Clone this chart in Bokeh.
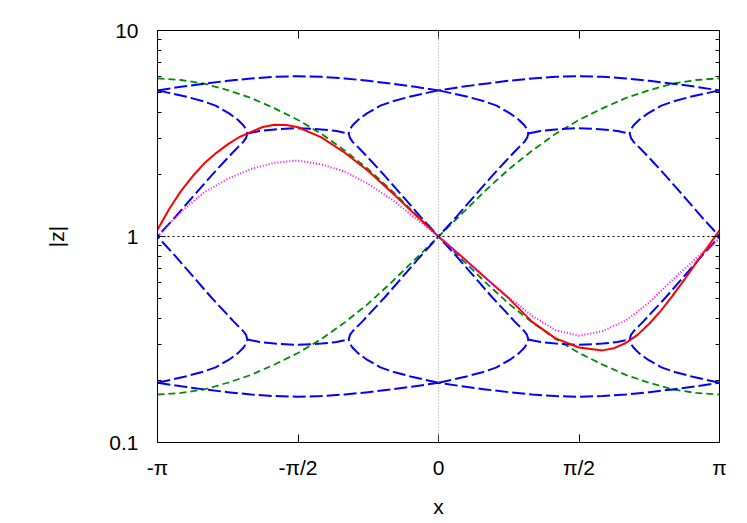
import numpy as np
from bokeh.plotting import figure
from bokeh.models import (FixedTicker, CustomJSTickFormatter, LinearAxis, LogAxis,
                          Span, Range1d)
from bokeh.embed import file_html
from bokeh.resources import INLINE

# ---------------- data (x in radians) ----------------
x_full = [-3.1416, -2.8798, -2.6180, -2.3562, -2.0944, -1.8326, -1.5708, -1.3090,
          -1.0472, -0.7854, -0.5236, -0.2618, 0.0, 0.2618, 0.5236, 0.7854, 1.0472,
          1.3090, 1.5708, 1.8326, 2.0944, 2.3562, 2.6180, 2.8798, 3.1416]

# blue: outer arcs
blue_top = [5.12, 5.33, 5.52, 5.70, 5.85, 5.96, 6.00, 5.96, 5.85, 5.70, 5.52, 5.33, 5.12,
            5.33, 5.52, 5.70, 5.85, 5.96, 6.00, 5.96, 5.85, 5.70, 5.52, 5.33, 5.12]
blue_bottom = [0.195, 0.1875, 0.181, 0.1755, 0.171, 0.168, 0.1667, 0.168, 0.171, 0.1755,
               0.181, 0.1875, 0.195, 0.1875, 0.181, 0.1755, 0.171, 0.168, 0.1667, 0.168,
               0.171, 0.1755, 0.181, 0.1875, 0.195]

# blue: branches that merge at the cusps
bx_left_end = [-3.1416, -2.8416, -2.6416, -2.4916, -2.3416, -2.2416, -2.1816, -2.1516, -2.1376,
               -2.1516, -2.1816, -2.2116, -2.2916, -2.3916, -2.5416, -2.7416, -2.9416, -3.1416]
bx_left_mid = [0.0, -0.30, -0.50, -0.65, -0.80, -0.90, -0.96, -0.99, -1.004,
               -0.99, -0.96, -0.93, -0.85, -0.75, -0.60, -0.40, -0.20, 0.0]
bx_right_mid = [0.0, 0.30, 0.50, 0.65, 0.80, 0.90, 0.96, 0.99, 1.004,
                0.99, 0.96, 0.93, 0.85, 0.75, 0.60, 0.40, 0.20, 0.0]
bx_right_end = [3.1416, 2.8416, 2.6416, 2.4916, 2.3416, 2.2416, 2.1816, 2.1516, 2.1376,
                2.1516, 2.1816, 2.2116, 2.2916, 2.3916, 2.5416, 2.7416, 2.9416, 3.1416]
by_branch_upper = [5.12, 4.80, 4.55, 4.32, 3.96, 3.68, 3.47, 3.31, 3.162,
                   3.01, 2.88, 2.80, 2.58, 2.32, 1.97, 1.57, 1.245, 1.0]
by_branch_lower = [0.195, 0.2085, 0.220, 0.2317, 0.2523, 0.2716, 0.2884, 0.302, 0.3162,
                   0.3327, 0.3467, 0.3573, 0.3873, 0.4315, 0.507, 0.638, 0.803, 1.0]

# blue: flat parts between cusps
bx_flat_left = [-2.1376, -2.0, -1.8326, -1.5708, -1.309, -1.14, -1.004]
bx_flat_right = [1.004, 1.14, 1.309, 1.5708, 1.8326, 2.0, 2.1376]
by_flat_upper = [3.162, 3.251, 3.311, 3.357, 3.311, 3.251, 3.162]
by_flat_lower = [0.3162, 0.3076, 0.302, 0.2979, 0.302, 0.3076, 0.3162]

# green
green_fall = [5.86, 5.75, 5.52, 5.13, 4.70, 4.19, 3.68, 3.15, 2.61, 2.12, 1.67, 1.29, 1.0,
              0.775, 0.600, 0.472, 0.383, 0.318, 0.272, 0.239, 0.213, 0.195, 0.181, 0.174, 0.171]
green_rise = [0.171, 0.174, 0.181, 0.195, 0.213, 0.239, 0.272, 0.318, 0.383, 0.472, 0.600,
              0.775, 1.0, 1.29, 1.67, 2.12, 2.61, 3.15, 3.68, 4.19, 4.70, 5.13, 5.52, 5.75, 5.86]

# red
red_x = [-3.1416, -3.0107, -2.8798, -2.7489, -2.6180, -2.4871, -2.3562, -2.2253, -2.0944,
         -1.9635, -1.8326, -1.7017, -1.5708, -1.3090, -1.0472, -0.7854, -0.5236, -0.2618,
         0.0, 0.2618, 0.5236, 0.7854, 1.0472, 1.3090, 1.5708, 1.8326, 1.9635, 2.0944,
         2.2253, 2.3562, 2.4871, 2.6180, 2.7489, 2.8798, 3.0107, 3.1416]
red_y = [1.079, 1.36, 1.66, 1.96, 2.265, 2.54, 2.80, 3.04, 3.22,
         3.40, 3.49, 3.48, 3.39, 3.03, 2.55, 2.08, 1.64, 1.28,
         1.0, 0.798, 0.631, 0.501, 0.385, 0.320, 0.289, 0.280, 0.287, 0.304,
         0.333, 0.377, 0.437, 0.516, 0.617, 0.745, 0.891, 1.072]

# magenta
mag_x = [-3.1416, -3.0107, -2.8798, -2.6180, -2.3562, -2.0944, -1.8326, -1.5708, -1.3090,
         -1.0472, -0.7854, -0.5236, -0.2618, 0.0, 0.2618, 0.5236, 0.7854, 1.0472, 1.3090,
         1.5708, 1.8326, 2.0944, 2.3562, 2.6180, 2.8798, 3.1416]
mag_y = [1.0, 1.153, 1.318, 1.641, 1.905, 2.128, 2.280, 2.339, 2.239,
         2.065, 1.799, 1.514, 1.230, 1.0, 0.798, 0.631, 0.507, 0.412, 0.351,
         0.330, 0.347, 0.391, 0.479, 0.617, 0.785, 0.977]

y_major = [0.1, 1, 10]
y_minor = [0.2, 0.3, 0.4, 0.5, 0.6, 0.7, 0.8, 0.9, 2, 3, 4, 5, 6, 7, 8, 9]
x_major = [-np.pi, -np.pi / 2, 0, np.pi / 2, np.pi]

FONT = "Liberation Sans"
FS = "21px"

p = figure(width=739, height=523, output_backend="svg", toolbar_location=None,
           y_axis_type="log",
           x_range=Range1d(-np.pi, np.pi), y_range=Range1d(0.1, 10),
           min_border_left=157, min_border_right=20, min_border_top=30, min_border_bottom=81)
p.background_fill_color = "white"
p.border_fill_color = "white"
p.outline_line_color = "black"
p.outline_line_width = 1
p.xgrid.visible = False
p.ygrid.visible = False

# reference lines
p.add_layout(Span(location=0, dimension="height", line_color="#9a9a9a",
                  line_dash="1 2", line_width=1))
p.add_layout(Span(location=1, dimension="width", line_color="black",
                  line_dash="2 3", line_width=1))

# curves
p.multi_line(xs=[x_full, x_full], ys=[green_fall, green_rise],
             line_color="#008b00", line_width=1.8, line_dash="7 4")

blue_xs = [x_full, x_full,
           bx_left_end, bx_left_mid, bx_right_mid, bx_right_end,
           bx_left_end, bx_left_mid, bx_right_mid, bx_right_end,
           bx_flat_left, bx_flat_right, bx_flat_left, bx_flat_right]
blue_ys = [blue_top, blue_bottom,
           by_branch_upper, by_branch_upper, by_branch_upper, by_branch_upper,
           by_branch_lower, by_branch_lower, by_branch_lower, by_branch_lower,
           by_flat_upper, by_flat_upper, by_flat_lower, by_flat_lower]
p.multi_line(xs=blue_xs, ys=blue_ys, line_color="#0000ff", line_width=2,
             line_dash="13 4", line_join="round")

p.line(red_x, red_y, line_color="#ff0000", line_width=2, line_join="round")
p.line(mag_x, mag_y, line_color="#ff00ff", line_width=2, line_dash="1 2")

# axes
xtick_code = """
const r = Math.round(tick / Math.PI * 2);
const m = {"-2": "-\u03c0", "-1": "-\u03c0/2", "0": "0", "1": "\u03c0/2", "2": "\u03c0"};
return m[String(r)];
"""
ytick_code = """
if (tick < 0.5) return "0.1";
if (tick < 5) return "1";
return "10";
"""

def style_x(ax, labels=True):
    ax.ticker = FixedTicker(ticks=x_major, minor_ticks=[])
    ax.formatter = CustomJSTickFormatter(code=xtick_code)
    ax.major_tick_in = 8
    ax.major_tick_out = 0
    ax.minor_tick_in = 0
    ax.minor_tick_out = 0
    ax.axis_line_color = "black"
    ax.major_tick_line_color = "black"
    ax.major_label_text_font = FONT
    ax.major_label_text_font_size = FS
    ax.major_label_text_color = "black" if labels else None
    ax.major_label_standoff = 13

def style_y(ax, labels=True):
    ax.ticker = FixedTicker(ticks=y_major, minor_ticks=y_minor)
    ax.formatter = CustomJSTickFormatter(code=ytick_code)
    ax.major_tick_in = 8
    ax.major_tick_out = 0
    ax.minor_tick_in = 4
    ax.minor_tick_out = 0
    ax.axis_line_color = "black"
    ax.major_tick_line_color = "black"
    ax.minor_tick_line_color = "black"
    ax.major_label_text_font = FONT
    ax.major_label_text_font_size = FS
    ax.major_label_text_color = "black" if labels else None
    ax.major_label_standoff = 19

xb = p.xaxis[0]
style_x(xb)
xb.axis_label = "x"
xb.axis_label_text_font = FONT
xb.axis_label_text_font_size = FS
xb.axis_label_text_font_style = "normal"
xb.axis_label_text_color = "black"
xb.axis_label_standoff = 13

yl = p.yaxis[0]
style_y(yl)
yl.axis_label = "|z|"
yl.axis_label_text_font = FONT
yl.axis_label_text_font_size = FS
yl.axis_label_text_font_style = "normal"
yl.axis_label_text_color = "black"
yl.axis_label_standoff = 38

xt = LinearAxis()
style_x(xt, labels=False)
xt.major_label_text_font_size = "0px"
xt.major_label_standoff = 0
p.add_layout(xt, "above")

yr = LogAxis()
style_y(yr, labels=False)
yr.major_label_text_font_size = "0px"
yr.major_label_standoff = 0
p.add_layout(yr, "right")

open("out.html", "w").write(file_html(p, INLINE))
